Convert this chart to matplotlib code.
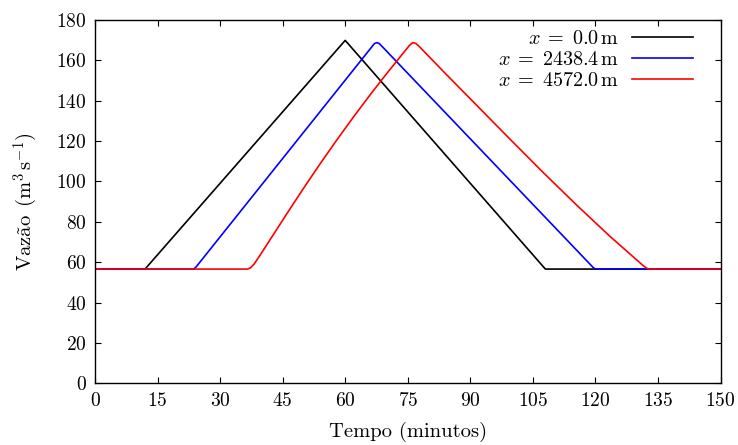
import matplotlib
matplotlib.use("Agg")
import matplotlib.pyplot as plt

plt.rcParams["font.family"] = "serif"
plt.rcParams["font.serif"] = ["cmr10", "DejaVu Serif"]
plt.rcParams["mathtext.fontset"] = "cm"
plt.rcParams["axes.formatter.use_mathtext"] = True

# Hydrographs at three stations along the channel
t_x0 = [0, 12, 60, 108, 150]
q_x0 = [56.6, 56.6, 169.9, 56.6, 56.6]

t_x1 = [0, 23.7, 24.3, 67.0, 67.6, 68.2, 119.5, 120.0, 150]
q_x1 = [56.6, 56.6, 57.8, 168.3, 168.8, 168.3, 57.3, 56.6, 56.6]

t_x2 = [0, 36.6, 37.3, 38.2, 39.5, 42.0, 46.0, 50.0, 54.0, 58.0, 62.0, 66.0,
        70.0, 74.0, 75.4, 76.2, 76.9, 77.6, 83.5, 91.5, 99.5, 107.5, 115.5,
        123.5, 131.4, 132.3, 133.0, 150]
q_x2 = [56.6, 56.6, 57.2, 59.2, 63.2, 71.2, 84.0, 96.6, 108.8, 120.6, 132.0,
        143.0, 153.6, 163.8, 167.4, 168.8, 168.4, 167.2, 154.6, 137.8, 121.0,
        104.4, 88.3, 72.8, 58.4, 57.0, 56.6, 56.6]

labels = [r"$x\;{=}\;0.0\,\mathrm{m}$", r"$x\;{=}\;2438.4\,\mathrm{m}$",
          r"$x\;{=}\;4572.0\,\mathrm{m}$"]
colors = ["black", "#0000ff", "#ff0000"]

xticks = list(range(0, 151, 15))
yticks = list(range(0, 181, 20))

fig = plt.figure(figsize=(7.38, 4.45), dpi=100)
ax = fig.add_axes([95 / 738, 1 - 383.3 / 445, 625.5 / 738, 363.3 / 445])

for t, q, c, lab in zip([t_x0, t_x1, t_x2], [q_x0, q_x1, q_x2], colors, labels):
    ax.plot(t, q, color=c, lw=1.2, label=lab)

ax.set_xlim(0, 150)
ax.set_ylim(0, 180)
ax.set_xticks(xticks)
ax.set_yticks(yticks)
ax.tick_params(direction="in", top=True, right=True, length=4.5, width=0.8,
               labelsize=14)
ax.tick_params(axis="x", pad=6)
ax.tick_params(axis="y", pad=6)
for s in ax.spines.values():
    s.set_linewidth(1.0)

ax.set_xlabel("Tempo (minutos)", fontsize=14.8, labelpad=9)
ax.set_ylabel(r"$\mathrm{Vaz\tilde{a}o}\ \,(\mathrm{m}^3\,\mathrm{s}^{-1})$",
              fontsize=14.8, labelpad=12)

ax.legend(loc="upper right", bbox_to_anchor=(0.972, 1.0), frameon=False,
          markerfirst=False, fontsize=14.5, handlelength=3.0, handletextpad=0.65,
          labelspacing=0.15, borderaxespad=0.1)

fig.savefig("out.png", dpi=100)
